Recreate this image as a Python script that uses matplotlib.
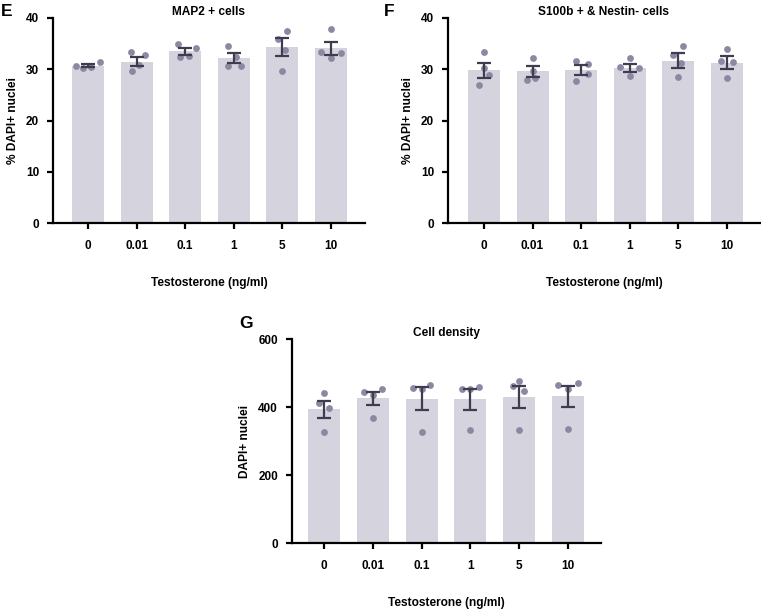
import matplotlib
matplotlib.use("Agg")
import matplotlib.pyplot as plt
import numpy as np

plt.rcParams['font.family'] = ['Liberation Sans', 'DejaVu Sans']
plt.rcParams['font.weight'] = 'bold'

categories = ["0", "0.01", "0.1", "1", "5", "10"]

# Panel E: MAP2 + cells
e_means = [30.7, 31.5, 33.5, 32.2, 34.3, 34.1]
e_sems = [0.25, 0.9, 0.65, 1.0, 1.8, 1.3]
e_points = [
    [30.7, 30.2, 30.4, 31.5],
    [33.3, 32.8, 30.9, 29.7],
    [35.0, 34.1, 32.4, 32.6],
    [34.6, 32.4, 30.6, 30.7],
    [37.5, 35.9, 33.8, 29.7],
    [37.9, 33.3, 33.2, 32.2],
]

# Panel F: S100b + & Nestin- cells
f_means = [29.8, 29.6, 29.9, 30.3, 31.7, 31.3]
f_sems = [1.45, 1.05, 1.0, 0.75, 1.4, 1.25]
f_points = [
    [33.4, 30.2, 28.9, 27.0],
    [32.2, 29.6, 28.0, 28.3],
    [31.7, 31.0, 29.1, 27.8],
    [32.2, 30.4, 30.2, 28.6],
    [34.6, 32.8, 31.3, 28.4],
    [34.0, 31.7, 31.4, 28.3],
]

# Panel G: Cell density
g_means = [394, 426, 425, 423, 429, 431]
g_sems = [25, 19.5, 33, 31, 33, 31]
g_points = [
    [440, 413, 397, 326],
    [445, 452, 435, 369],
    [455, 465, 452, 326],
    [452, 460, 452, 333],
    [476, 462, 447, 331],
    [464, 472, 454, 335],
]

# horizontal offsets of the dots within each bar (jitter)
e_offsets = [
    [-0.25, -0.1, 0.07, 0.25],
    [-0.12, 0.18, 0.05, -0.1],
    [-0.15, 0.22, -0.1, 0.08],
    [-0.12, 0.05, -0.12, 0.15],
    [0.1, -0.1, 0.05, 0.0],
    [0.0, -0.2, 0.2, 0.0],
]
f_offsets = [
    [0.0, 0.0, 0.1, -0.1],
    [0.0, 0.0, -0.12, 0.05],
    [-0.1, 0.15, 0.15, -0.1],
    [0.0, -0.2, 0.2, 0.0],
    [0.1, -0.1, 0.05, 0.0],
    [0.0, -0.12, 0.12, 0.0],
]
g_offsets = [
    [0.0, -0.1, 0.1, 0.0],
    [-0.18, 0.18, 0.0, 0.0],
    [-0.18, 0.18, 0.0, 0.0],
    [-0.18, 0.18, 0.0, 0.0],
    [0.0, -0.12, 0.1, 0.0],
    [-0.2, 0.2, 0.0, 0.0],
]

bar_color = "#d4d3de"
dot_color = "#8b88a2"
err_color = "#3d3d4f"

W, H = 761, 609
fig = plt.figure(figsize=(W / 100, H / 100), dpi=100)


def make_ax(left, right, top, bottom):
    return fig.add_axes([left / W, 1 - bottom / H, (right - left) / W, (bottom - top) / H])


def draw(ax, means, sems, points, offsets, ylim, yticks, ylabel, title, letter, letter_xy, xlim):
    x = np.arange(len(categories))
    ax.bar(x, means, width=0.66, color=bar_color, zorder=1)
    for i, (pts, offs) in enumerate(zip(points, offsets)):
        ax.scatter(np.array(offs) + x[i], pts, s=24, color=dot_color, zorder=2, linewidths=0)
    ax.errorbar(x, means, yerr=sems, fmt='none', ecolor=err_color, elinewidth=1.6,
                capsize=4.8, capthick=1.6, zorder=3)
    ax.set_xlim(*xlim)
    ax.set_ylim(*ylim)
    ax.set_yticks(yticks)
    ax.set_xticks(x)
    ax.set_xticklabels(categories)
    for s in ["top", "right"]:
        ax.spines[s].set_visible(False)
    for s in ["left", "bottom"]:
        ax.spines[s].set_linewidth(1.6)
    ax.tick_params(axis='both', width=1.6, length=4, labelsize=8.5)
    ax.tick_params(axis='x', pad=8)
    ax.tick_params(axis='y', pad=6)
    ax.set_ylabel(ylabel, fontsize=8.6, fontweight='bold', labelpad=5)
    ax.set_xlabel("Testosterone (ng/ml)", fontsize=8.6, fontweight='bold', labelpad=18)
    ax.set_title(title, fontsize=8.6, fontweight='bold', pad=-5)
    fig.text(letter_xy[0] / W, 1 - letter_xy[1] / H, letter, fontsize=12.5, fontweight='bold',
             ha='left', va='center')


axE = make_ax(53, 365, 18, 223)
draw(axE, e_means, e_sems, e_points, e_offsets, (0, 40), [0, 10, 20, 30, 40],
     "% DAPI+ nuclei", "MAP2 + cells", "E", (1, 11), (-0.72, 5.7))

axF = make_ax(448, 760, 18, 223)
draw(axF, f_means, f_sems, f_points, f_offsets, (0, 40), [0, 10, 20, 30, 40],
     "% DAPI+ nuclei", "S100b + & Nestin- cells", "F", (384, 11), (-0.74, 5.68))

axG = make_ax(292, 601, 339, 543)
draw(axG, g_means, g_sems, g_points, g_offsets, (0, 600), [0, 200, 400, 600],
     "DAPI+ nuclei", "Cell density", "G", (239, 323), (-0.66, 5.68))

fig.savefig("out.png", dpi=100)
